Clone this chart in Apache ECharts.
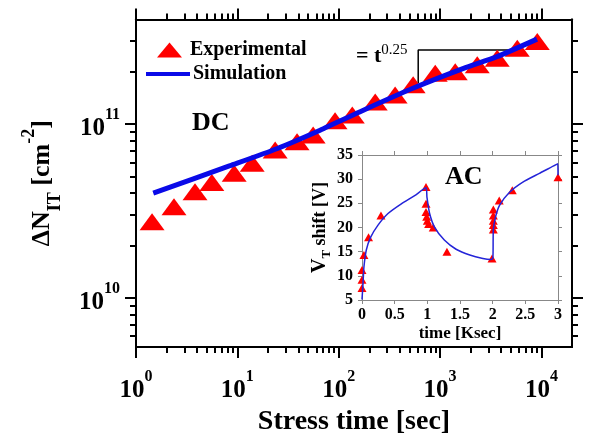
<!DOCTYPE html>
<html>
<head>
<meta charset="utf-8">
<script src="https://cdn.jsdelivr.net/npm/echarts@6/dist/echarts.min.js"></script>
<style>
  html, body { margin: 0; padding: 0; background: #fff; }
  #main { width: 590px; height: 433px; }
</style>
</head>
<body>
<div id="main"></div>
<script>
// DC stress: measured interface traps (triangles) and simulation (line)
var dcTime = [1.44, 2.37, 3.82, 5.6, 9.3, 14, 23.6, 38.8, 55.9, 92, 136, 229, 360, 542, 895, 1410, 2325, 3660, 5770, 9090];
var dcNit = [2.74e10, 3.34e10, 4.07e10, 4.6e10, 5.2e10, 5.94e10, 7.08e10, 7.9e10, 8.64e10, 1.045e11, 1.127e11, 1.34e11, 1.47e11, 1.68e11, 1.96e11, 2.0e11, 2.19e11, 2.39e11, 2.73e11, 2.98e11];
var simTime = [1.48, 8.47, 24.5, 65.5, 175, 546, 1702, 3640, 9030];
var simNit = [4.0e10, 5.75e10, 7.2e10, 9.2e10, 1.2e11, 1.61e11, 2.09e11, 2.44e11, 3.08e11];

// slope bracket (= t^0.25)
var slopeTime = [608, 608, 5150];
var slopeNit = [1.72e11, 2.67e11, 2.67e11];

// AC inset: Vt shift vs time [Ksec]
var acTime = [0, 0, 0, 0.03, 0.1, 0.29, 0.98, 0.98, 0.98, 0.99, 1.0, 1.02, 1.09, 1.3, 1.99, 2.01, 2.01, 2.01, 2.01, 2.01, 2.1, 2.3, 3.0];
var acShift = [7.5, 9.2, 11.2, 14.3, 18.0, 22.5, 28.4, 24.9, 23.2, 22.2, 21.4, 20.7, 20.0, 15.0, 13.6, 19.6, 20.5, 21.4, 22.5, 23.7, 25.6, 27.7, 30.4];
var acSimTime = [0, 0.016, 0.03, 0.066, 0.133, 0.245, 0.398, 0.602, 0.806, 0.98, 0.994, 1.035, 1.11, 1.26, 1.44, 1.65, 1.85, 1.97, 2.003, 2.01, 2.044, 2.105, 2.258, 2.462, 2.716, 2.997, 3.0];
var acSimShift = [5.1, 8.5, 11.9, 15.35, 18.0, 20.5, 22.9, 24.9, 26.6, 28.2, 26.3, 22.9, 20.1, 17.4, 15.5, 14.3, 13.6, 13.4, 13.6, 19.5, 22.2, 24.6, 27.3, 29.4, 31.2, 33.2, 30.8];

// axis ranges and ticks (real units)
var xRange = [1, 20000];
var yRange = [5.2e9, 4e11];
var xMajorTicks = [1, 10, 100, 1000, 10000];
var xMinorTicks = [2, 3, 4, 5, 6, 7, 8, 9, 20, 30, 40, 50, 60, 70, 80, 90, 200, 300, 400, 500, 600, 700, 800, 900, 2000, 3000, 4000, 5000, 6000, 7000, 8000, 9000];
var yMajorTicks = [1e10, 1e11];
var yMinorTicks = [6e9, 7e9, 8e9, 9e9, 2e10, 3e10, 4e10, 5e10, 6e10, 7e10, 8e10, 9e10, 2e11, 3e11];

var FONT = 'Liberation Serif';

// the main plot is log-log: values go to the axes as decades
function lg(arr) {
  return arr.map(function (v) { return Math.log10(v); });
}

function zip(a, b) {
  return a.map(function (v, i) { return [v, b[i]]; });
}

function powLabel(v) {
  return '{b|10}{s|' + Math.round(v) + '}';
}

var powRich = {
  b: { fontFamily: FONT, fontWeight: 'bold', fontSize: 25, lineHeight: 34, color: '#000', verticalAlign: 'bottom' },
  s: { fontFamily: FONT, fontWeight: 'bold', fontSize: 16, lineHeight: 16, color: '#000', verticalAlign: 'top' }
};

var black = { color: '#000', width: 2 };
var gray = { color: '#888', width: 1 };

// grid 0: minor ticks (and the series); grid 1 (same box): major ticks and labels
function decAxis(grid, pos, range, ticks, len, margin) {
  var r = lg(range);
  return {
    type: 'value', gridIndex: grid, position: pos, min: r[0], max: r[1],
    axisLine: { show: true, onZero: false, lineStyle: black },
    axisTick: { show: true, length: len, lineStyle: black, customValues: lg(ticks) },
    axisLabel: margin ? { show: true, customValues: lg(ticks), margin: margin, formatter: powLabel, rich: powRich } : { show: false },
    splitLine: { show: false }
  };
}

var chart = echarts.init(document.getElementById('main'));

var xAxes = [
  decAxis(0, 'bottom', xRange, xMinorTicks, 6, 0),
  decAxis(0, 'top', xRange, xMinorTicks, 6, 0),
  decAxis(1, 'bottom', xRange, xMajorTicks, 11, 22),
  decAxis(1, 'top', xRange, xMajorTicks, 11, 0),
  {
    type: 'value', gridIndex: 2, position: 'bottom', min: 0, max: 3, interval: 0.5,
    axisLine: { onZero: false, lineStyle: gray }, axisTick: { length: 4, lineStyle: gray },
    axisLabel: { margin: 7, color: '#000', fontFamily: FONT, fontWeight: 'bold', fontSize: 16 },
    splitLine: { show: false },
    name: 'time [Ksec]', nameLocation: 'middle', nameGap: 25,
    nameTextStyle: { color: '#000', fontFamily: FONT, fontWeight: 'bold', fontSize: 17 }
  },
  {
    type: 'value', gridIndex: 2, position: 'top', min: 0, max: 3, interval: 0.5,
    axisLine: { onZero: false, lineStyle: gray }, axisTick: { length: 4, lineStyle: gray },
    axisLabel: { show: false }, splitLine: { show: false }
  }
];
xAxes[2].name = 'Stress time [sec]';
xAxes[2].nameLocation = 'middle';
xAxes[2].nameGap = 55;
xAxes[2].nameTextStyle = { color: '#000', fontFamily: FONT, fontWeight: 'bold', fontSize: 28, lineHeight: 28 };

var yAxes = [
  decAxis(0, 'left', yRange, yMinorTicks, 6, 0),
  decAxis(0, 'right', yRange, yMinorTicks, 6, 0),
  decAxis(1, 'left', yRange, yMajorTicks, 11, 16),
  decAxis(1, 'right', yRange, yMajorTicks, 11, 0),
  {
    type: 'value', gridIndex: 2, position: 'left', min: 5, max: 35, interval: 5,
    axisLine: { onZero: false, lineStyle: gray }, axisTick: { length: 4, lineStyle: gray },
    axisLabel: { margin: 9, color: '#000', fontFamily: FONT, fontWeight: 'bold', fontSize: 16 },
    splitLine: { show: false },
    name: '{v|V}{t|T}{a| shift [V]}', nameLocation: 'middle', nameGap: 27,
    nameTextStyle: {
      rich: {
        v: { fontFamily: FONT, fontWeight: 'bold', fontSize: 20, lineHeight: 26, color: '#000', verticalAlign: 'middle' },
        t: { fontFamily: FONT, fontWeight: 'bold', fontSize: 13, lineHeight: 13, color: '#000', verticalAlign: 'bottom' },
        a: { fontFamily: FONT, fontWeight: 'bold', fontSize: 18, lineHeight: 26, color: '#000', verticalAlign: 'middle' }
      }
    }
  },
  {
    type: 'value', gridIndex: 2, position: 'right', min: 5, max: 35, interval: 5,
    axisLine: { onZero: false, lineStyle: gray }, axisTick: { length: 4, lineStyle: gray },
    axisLabel: { show: false }, splitLine: { show: false }
  }
];
yAxes[2].name = '{a|\u0394N}{sub|IT}{a| [cm}{sup|-2}{a|]}';
yAxes[2].nameLocation = 'middle';
yAxes[2].nameGap = 72;
yAxes[2].nameTextStyle = {
  rich: {
    a: { fontFamily: FONT, fontWeight: 'bold', fontSize: 26, lineHeight: 44, color: '#000', verticalAlign: 'middle' },
    sub: { fontFamily: FONT, fontWeight: 'bold', fontSize: 18, lineHeight: 18, color: '#000', verticalAlign: 'bottom' },
    sup: { fontFamily: FONT, fontWeight: 'bold', fontSize: 18, lineHeight: 18, color: '#000', verticalAlign: 'top' }
  }
};

var option = {
  animation: false,
  backgroundColor: '#fff',
  textStyle: { fontFamily: FONT },
  grid: [
    { left: 136, right: 18, top: 19.4, bottom: 86, outerBoundsMode: 'none' },
    { left: 136, right: 18, top: 19.4, bottom: 86, outerBoundsMode: 'none' },
    { left: 362, right: 32, top: 155, bottom: 133, outerBoundsMode: 'none', show: true, backgroundColor: '#fff', borderWidth: 0 }
  ],
  legend: [
    {
      data: [{ name: 'Experimental', icon: 'triangle' }],
      left: 152, top: 35, itemWidth: 25, itemHeight: 15,
      textStyle: { color: '#000', fontFamily: FONT, fontWeight: 'bold', fontSize: 20, padding: [0, 0, 0, 3] }
    },
    {
      data: [{ name: 'Simulation', icon: 'rect' }],
      left: 141, top: 59, itemWidth: 44, itemHeight: 4,
      textStyle: { color: '#000', fontFamily: FONT, fontWeight: 'bold', fontSize: 20, padding: [0, 0, 0, -2] }
    }
  ],
  xAxis: xAxes,
  yAxis: yAxes,
  graphic: [
    {
      type: 'text', left: 192, top: 110, z: 10,
      style: { text: 'DC', fill: '#000', font: 'bold 26px "Liberation Serif"' }
    },
    {
      type: 'text', left: 445, top: 164, z: 10,
      style: { text: 'AC', fill: '#000', font: 'bold 26px "Liberation Serif"' }
    },
    {
      type: 'text', left: 356, top: 43, z: 10,
      style: {
        text: '{a|= t}{s|0.25}',
        rich: {
          a: { fontFamily: FONT, fontWeight: 'bold', fontSize: 22, lineHeight: 24, fill: '#000', verticalAlign: 'bottom' },
          s: { fontFamily: FONT, fontSize: 15, lineHeight: 15, fill: '#000', verticalAlign: 'top' }
        }
      }
    }
  ],
  series: [
    {
      name: 'Experimental', type: 'scatter', xAxisIndex: 0, yAxisIndex: 0,
      symbol: 'triangle', symbolSize: [25, 17],
      itemStyle: { color: '#ff0000', opacity: 1 },
      data: zip(lg(dcTime), lg(dcNit)), z: 3
    },
    {
      name: 'Simulation', type: 'line', xAxisIndex: 0, yAxisIndex: 0,
      showSymbol: false, symbol: 'none', smooth: 0.2,
      itemStyle: { color: '#0a0ae8' },
      lineStyle: { color: '#0a0ae8', width: 5 },
      data: zip(lg(simTime), lg(simNit)), z: 4
    },
    {
      name: 'slope', type: 'line', xAxisIndex: 0, yAxisIndex: 0,
      symbol: 'none', silent: true,
      lineStyle: { color: '#000', width: 1.5 },
      data: zip(lg(slopeTime), lg(slopeNit)), z: 2
    },
    {
      name: 'AC sim', type: 'line', xAxisIndex: 4, yAxisIndex: 4,
      symbol: 'none', smooth: 0.2,
      lineStyle: { color: '#2424d8', width: 1.5 },
      data: zip(acSimTime, acSimShift), z: 5
    },
    {
      name: 'AC exp', type: 'scatter', xAxisIndex: 4, yAxisIndex: 4,
      symbol: 'triangle', symbolSize: [9, 8],
      itemStyle: { color: '#ff0000', opacity: 1 },
      data: zip(acTime, acShift), z: 4
    }
  ]
};

chart.setOption(option);
</script>
</body>
</html>
